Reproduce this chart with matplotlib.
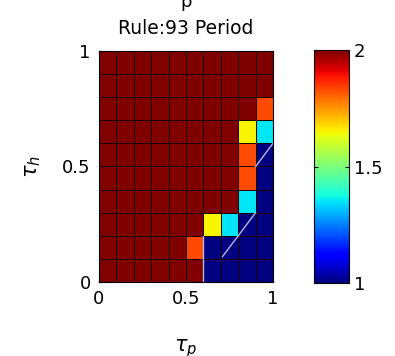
import numpy as np
import matplotlib
matplotlib.use("Agg")
import matplotlib.pyplot as plt

# grid axes (cell edges)
tau_p_edges = np.linspace(0, 1, 11)
tau_h_edges = np.linspace(0, 1, 11)

# period values, rows from tau_h=0 (bottom) up to tau_h=1 (top)
period = np.array([
    [2, 2, 2, 2, 2, 2, 1, 1, 1, 1],
    [2, 2, 2, 2, 2, 1.83, 1, 1, 1, 1],
    [2, 2, 2, 2, 2, 2, 1.65, 1.35, 1, 1],
    [2, 2, 2, 2, 2, 2, 2, 2, 1.35, 1],
    [2, 2, 2, 2, 2, 2, 2, 2, 1.83, 1],
    [2, 2, 2, 2, 2, 2, 2, 2, 1.83, 1],
    [2, 2, 2, 2, 2, 2, 2, 2, 1.65, 1.35],
    [2, 2, 2, 2, 2, 2, 2, 2, 2, 1.83],
    [2, 2, 2, 2, 2, 2, 2, 2, 2, 2],
    [2, 2, 2, 2, 2, 2, 2, 2, 2, 2],
])

# light boundary lines drawn over the grid
line1_x = [0.6, 0.6]
line1_y = [0.0, 0.2]
line2_x = [0.71, 0.9]
line2_y = [0.11, 0.3]
line3_x = [0.9, 1.0]
line3_y = [0.5, 0.6]

fig = plt.figure(figsize=(3.95, 3.56), dpi=100)
ax = fig.add_axes([0.2506, 0.2079, 0.4405, 0.6489])
cax = fig.add_axes([0.795, 0.205, 0.0886, 0.6545])

mesh = ax.pcolormesh(tau_p_edges, tau_h_edges, period, cmap='jet', vmin=1, vmax=2,
                     edgecolors='#1a0000', linewidth=0.6)
for lx, ly in [(line1_x, line1_y), (line2_x, line2_y), (line3_x, line3_y)]:
    ax.plot(lx, ly, color='#b8b8e8', linewidth=1.0)

ax.set_xlim(0, 1)
ax.set_ylim(0, 1)
ax.set_xticks([0, 0.5, 1])
ax.set_xticklabels(['0', '0.5', '1'])
ax.set_yticks([0, 0.5, 1])
ax.set_yticklabels(['0', '0.5', '1'])
ax.tick_params(direction='in', length=3, labelsize=13, pad=6, top=True, right=True)
ax.set_title('Rule:93 Period', fontsize=13.5, pad=12)
ax.set_xlabel(r'$\tau_p$', fontsize=15, labelpad=21)
ax.set_ylabel(r'$\tau_h$', fontsize=15, labelpad=14)
fig.text(0.47, 1 - 7 / 356, 'p', fontsize=13, ha='center', va='baseline')

cb = fig.colorbar(mesh, cax=cax, ticks=[1, 1.5, 2])
cb.ax.set_yticklabels(['1', '1.5', '2'])
cb.ax.tick_params(direction='in', length=3, labelsize=13, left=True, right=True)
cb.outline.set_linewidth(0.8)

fig.savefig('out.png', dpi=100)
